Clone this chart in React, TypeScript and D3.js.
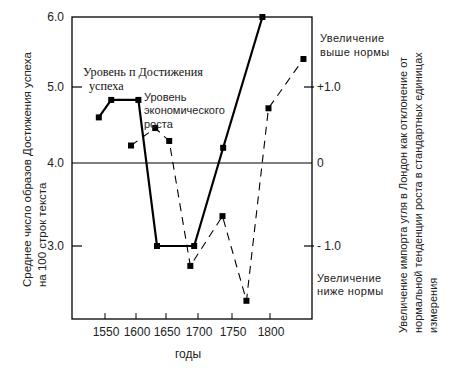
import React from "react";
import * as d3 from "d3";

// tick years and the uneven pixel spacing of the hand-drawn axis
const yearTicks = [1550, 1600, 1650, 1700, 1750, 1800];
const leftTicks = [3, 4, 5, 6];
const leftTickLabels = ["3.0", "4.0", "5.0", "6.0"];
const rightTicks = [-1, 0, 1];
const rightTickLabels = ["- 1.0", "0", "+1.0"];

// Уровень n Достижения успеха
const achYears = [1540, 1560, 1604, 1635, 1694, 1737, 1790];
const achValues = [4.6, 4.83, 4.83, 3.0, 3.0, 4.2, 6.0];

// Уровень экономического роста (импорт угля)
const coalYears = [1592, 1632, 1655, 1688, 1736, 1769, 1798, 1844];
const coalValues = [0.23, 0.46, 0.29, -1.24, -0.64, -1.66, 0.72, 1.4];

const W = 454;
const H = 375;
const left = 72;
const right = 312;
const top = 17;
const bottom = 319;

export default function App() {
  const x = d3.scaleLinear().domain(yearTicks).range([105, 136, 166, 198, 232, 270]);
  const y = d3.scaleLinear().domain(leftTicks).range([246, 163, 87, 17]);
  const yR = d3.scaleLinear().domain([-1, 0, 1, 2]).range([246, 163, 87, 17]);

  const achPts: [number, number][] = achYears.map((d, i) => [x(d), y(achValues[i])]);
  const coalPts: [number, number][] = coalYears.map((d, i) => [x(d), yR(coalValues[i])]);
  const line = d3.line();

  const sans = "Liberation Sans, Arial, sans-serif";
  const serif = "Liberation Serif, Times New Roman, serif";

  return (
    <svg width={W} height={H} style={{ position: "absolute", left: 0, top: 0, background: "#fff" }}>
      {/* frame */}
      <rect x={left} y={top} width={right - left} height={bottom - top} fill="none" stroke="#000" strokeWidth={1.3} />
      <line x1={left} x2={right} y1={y(4)} y2={y(4)} stroke="#000" strokeWidth={1.2} />

      {/* left ticks */}
      {leftTicks.map((t, i) => (
        <g key={"l" + t}>
          {t !== 6 && t !== 4 && <line x1={left} x2={left + 10} y1={y(t)} y2={y(t)} stroke="#000" strokeWidth={1.2} />}
          <text x={64} y={y(t)} dy="0.35em" textAnchor="end" fontFamily={sans} fontSize={12} fill="#222">
            {leftTickLabels[i]}
          </text>
        </g>
      ))}

      {/* right ticks */}
      {rightTicks.map((t, i) => (
        <g key={"r" + t}>
          {t !== 0 && <line x1={right - 8} x2={right + 2} y1={yR(t)} y2={yR(t)} stroke="#000" strokeWidth={1.2} />}
          <text x={317} y={yR(t)} dy="0.35em" textAnchor="start" fontFamily={sans} fontSize={12} fill="#222">
            {rightTickLabels[i]}
          </text>
        </g>
      ))}

      {/* bottom ticks */}
      {yearTicks.map(t => (
        <g key={"b" + t}>
          <line x1={x(t)} x2={x(t)} y1={bottom - 6} y2={bottom} stroke="#000" strokeWidth={1} />
          <text x={x(t) + 1} y={336} textAnchor="middle" fontFamily={sans} fontSize={12} fill="#222">
            {t}
          </text>
        </g>
      ))}
      <text x={188} y={358} textAnchor="middle" fontFamily={sans} fontSize={12} fill="#222">годы</text>

      {/* series */}
      <path d={line(coalPts) || ""} fill="none" stroke="#000" strokeWidth={1.1} strokeDasharray="8,6" />
      <path d={line(achPts) || ""} fill="none" stroke="#000" strokeWidth={2.2} />
      {achPts.concat(coalPts).map((p, i) => (
        <rect key={"m" + i} x={p[0] - 3} y={p[1] - 3} width={6} height={6} fill="#000" />
      ))}

      {/* annotations */}
      <text fontFamily={serif} fontSize={12.2} fill="#111">
        <tspan x={83} y={76}>Уровень п Достижения</tspan>
        <tspan x={89} y={90}>успеха</tspan>
      </text>
      <text fontFamily={sans} fontSize={11} fill="#222">
        <tspan x={144} y={101}>Уровень</tspan>
        <tspan x={144} y={114}>экономического</tspan>
        <tspan x={144} y={128}>роста</tspan>
      </text>
      <text fontFamily={sans} fontSize={11} fill="#222" letterSpacing={0.4}>
        <tspan x={320} y={42}>Увеличение</tspan>
        <tspan x={320} y={56}>выше нормы</tspan>
      </text>
      <text fontFamily={sans} fontSize={11} fill="#222" letterSpacing={0.4}>
        <tspan x={317} y={282}>Увеличение</tspan>
        <tspan x={317} y={295}>ниже нормы</tspan>
      </text>

      {/* axis titles */}
      <text transform="translate(31,287) rotate(-90)" fontFamily={sans} fontSize={11.5} fill="#222">
        Среднее число образов Достижения успеха
      </text>
      <text transform="translate(46,287) rotate(-90)" fontFamily={sans} fontSize={11.5} fill="#222">
        на 100 строк текста
      </text>
      <text transform="translate(407,333) rotate(-90)" fontFamily={sans} fontSize={11} fill="#222">
        Увеличение импорта угля в Лондон как отклонение от
      </text>
      <text transform="translate(422,333) rotate(-90)" fontFamily={sans} fontSize={11} fill="#222">
        нормальной тенденции роста в стандартных единицах
      </text>
      <text transform="translate(437,333) rotate(-90)" fontFamily={sans} fontSize={11} fill="#222">
        измерения
      </text>
    </svg>
  );
}
